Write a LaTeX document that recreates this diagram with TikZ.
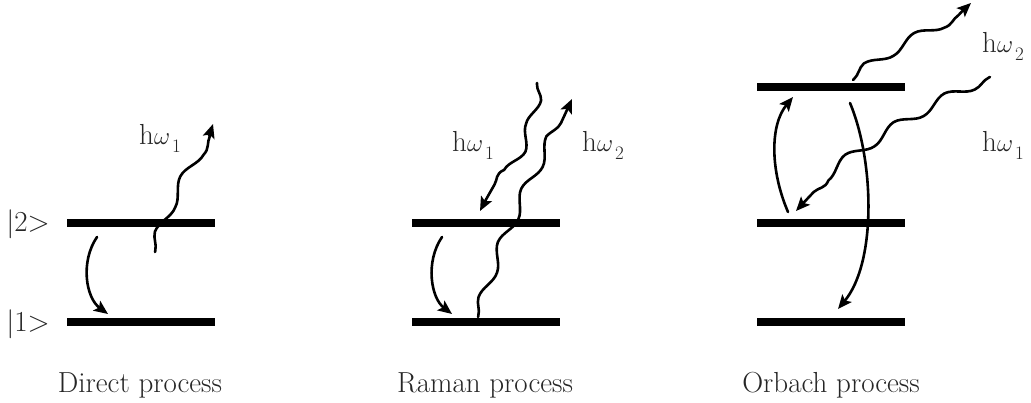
\documentclass[tikz,border=0pt]{standalone}
\usetikzlibrary{arrows.meta,decorations.pathmorphing}
\newcommand{\hwsub}[1]{h$\omega$\kern2pt\raisebox{-8pt}{\fontsize{19}{21}\selectfont #1}}
\begin{document}
\begin{tikzpicture}[x=1pt,y=-1pt,
  level/.style={fill=black, draw=none, inner sep=0pt, minimum width=148pt, minimum height=7.5pt},
  lbl/.style={font=\fontsize{29}{34}\selectfont, inner sep=0pt, text=black!85},
  trans/.style={line width=2.6pt, line cap=round, -{Stealth[length=14pt,width=12pt,inset=3pt]}},
  photon/.style={trans, decorate, decoration={snake, segment length=#1, amplitude=5pt, pre length=1pt, post length=12pt}},
  photon/.default=55pt]
\useasboundingbox (0,0) rectangle (1031,403);

% ---------- Direct process ----------
\node[level] (a2) at (141,223) {};
\node[level] (a1) at (141,322) {};
\node[lbl, anchor=base east] (ka2) at (50,232) {|2>};
\node[lbl, anchor=base east] (ka1) at (50,331) {|1>};
\coordinate (ads) at (97,237);
\coordinate (ade) at (108,314);
\draw[trans] (ads) .. controls (80,262) and (86,298) .. (ade);
\coordinate (aws) at (155,252);
\coordinate (awe) at (213,124);
\draw[photon=60pt] (aws) .. controls (165,210) and (200,170) .. (awe);
\node[lbl, anchor=base west] (aw) at (139,145) {\hwsub{1}};
\node[lbl, anchor=base] (capa) at (140,392) {Direct process};

% ---------- Raman process ----------
\node[level] (b2) at (486,223) {};
\node[level] (b1) at (486,322) {};
\coordinate (bds) at (442,237);
\coordinate (bde) at (452,314);
\draw[trans] (bds) .. controls (425,262) and (431,298) .. (bde);
\coordinate (b1s) at (537,83);
\coordinate (b1e) at (480,211);
\draw[photon=52pt] (b1s) .. controls (535,130) and (500,170) .. (b1e);
\coordinate (b2s) at (478,317);
\coordinate (b2e) at (572,99);
\draw[photon=58pt] (b2s) .. controls (500,240) and (540,170) .. (b2e);
\node[lbl, anchor=base west] (bw1) at (452,152) {\hwsub{1}};
\node[lbl, anchor=base west] (bw2) at (582,152) {\hwsub{2}};
\node[lbl, anchor=base] (capb) at (485,392) {Raman process};

% ---------- Orbach process ----------
\node[level] (c3) at (831,87) {};
\node[level] (c2) at (831,223) {};
\node[level] (c1) at (831,322) {};
\coordinate (cus) at (788,212);
\coordinate (cue) at (793,97);
\draw[trans] (cus) .. controls (770,170) and (770,125) .. (cue);
\coordinate (cds) at (850,103);
\coordinate (cde) at (838,309);
\draw[trans] (cds) .. controls (874,160) and (877,262) .. (cde);
\coordinate (c2s) at (853,80);
\coordinate (c2e) at (971,3);
\draw[photon=58pt] (c2s) .. controls (880,55) and (940,35) .. (c2e);
\coordinate (c1s) at (990,77);
\coordinate (c1e) at (796,211);
\draw[photon=58pt] (c1s) .. controls (940,100) and (850,150) .. (c1e);
\node[lbl, anchor=base west] (cw2) at (982,53) {\hwsub{2}};
\node[lbl, anchor=base west] (cw1) at (982,152) {\hwsub{1}};
\node[lbl, anchor=base] (capc) at (831,392) {Orbach process};
\end{tikzpicture}
\end{document}
